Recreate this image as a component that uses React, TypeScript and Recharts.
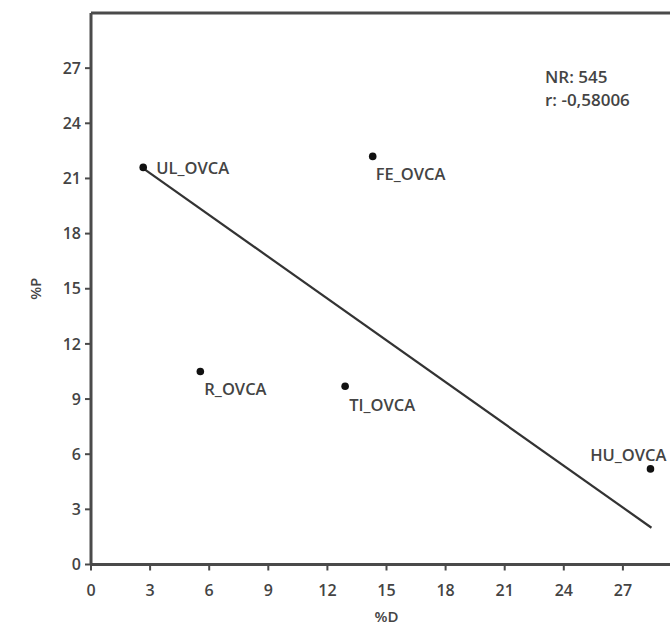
import { ScatterChart, Scatter, XAxis, YAxis, ReferenceLine } from "recharts";

// values
const names = ["UL_OVCA", "FE_OVCA", "R_OVCA", "TI_OVCA", "HU_OVCA"];
const dValues = [2.65, 14.3, 5.55, 12.9, 28.4];
const pValues = [21.6, 22.2, 10.5, 9.7, 5.2];
const trendD = [2.65, 28.45];
const trendP = [21.55, 2.0];
const axisTicks = [0, 3, 6, 9, 12, 15, 18, 21, 24, 27];
const stats = ["NR: 545", "r: -0,58006"];

const points = names.map((name, i) => ({ name, d: dValues[i], p: pValues[i] }));

const FONT = "'Open Sans', 'Liberation Sans', sans-serif";
const INK = "#444";
const AXIS = "#4a4a4a";

// where each point's name sits relative to its dot
const labelPos: Record<string, { dx: number; dy: number; anchor: "start" | "end" }> = {
  UL_OVCA: { dx: 13, dy: 0, anchor: "start" },
  FE_OVCA: { dx: 3, dy: 17, anchor: "start" },
  R_OVCA: { dx: 4, dy: 17, anchor: "start" },
  TI_OVCA: { dx: 4, dy: 18, anchor: "start" },
  HU_OVCA: { dx: 16, dy: -14, anchor: "end" },
};

function Dot(props: any) {
  const { cx, cy, payload } = props;
  const pos = labelPos[payload.name];
  return (
    <g>
      <circle cx={cx} cy={cy} r={3.8} fill="#111" />
      <text
        x={cx + pos.dx}
        y={cy + pos.dy}
        textAnchor={pos.anchor}
        dominantBaseline="central"
        fontFamily={FONT}
        fontSize={16.5}
        fontWeight={600}
        fill={INK}
      >
        {payload.name}
      </text>
    </g>
  );
}

export default function App() {
  const tick = { fontSize: 16, fill: INK, fontFamily: FONT, fontWeight: 600 };
  return (
    <div style={{ position: "absolute", left: 0, top: 0, width: 670, height: 628, overflow: "hidden", background: "#fff" }}>
      <ScatterChart width={700} height={628} margin={{ top: 13, right: 18, bottom: 18.5, left: 31 }}>
        <XAxis
          type="number"
          dataKey="d"
          domain={[0, 30]}
          ticks={axisTicks}
          allowDataOverflow
          height={45}
          tick={tick}
          tickSize={6}
          tickMargin={14}
          axisLine={{ stroke: AXIS, strokeWidth: 3 }}
          tickLine={{ stroke: AXIS, strokeWidth: 2 }}
          label={{ value: "%D", position: "bottom", offset: 1.5, fontSize: 15, fontWeight: 600, fill: INK, fontFamily: FONT }}
        />
        <YAxis
          type="number"
          dataKey="p"
          domain={[0, 30]}
          ticks={axisTicks}
          allowDataOverflow
          width={60}
          tick={tick}
          tickSize={6}
          tickMargin={4}
          axisLine={{ stroke: AXIS, strokeWidth: 3 }}
          tickLine={{ stroke: AXIS, strokeWidth: 2 }}
          label={{
            content: (p: any) => {
              const vb = p.viewBox;
              const x = vb.x + 4;
              const y = vb.y + vb.height / 2;
              return (
                <text x={x} y={y} transform={`rotate(-90 ${x} ${y})`} textAnchor="middle" dominantBaseline="central" fontSize={15} fontWeight={600} fill={INK} fontFamily={FONT}>
                  %P
                </text>
              );
            },
          }}
        />
        <ReferenceLine y={30} stroke={AXIS} strokeWidth={3} ifOverflow="visible" />
        <ReferenceLine
          segment={[
            { x: trendD[0], y: trendP[0] },
            { x: trendD[1], y: trendP[1] },
          ]}
          stroke="#333"
          strokeWidth={2.2}
          ifOverflow="visible"
        />
        <Scatter data={points} shape={<Dot />} isAnimationActive={false} />
      </ScatterChart>
      <div style={{ position: "absolute", left: 545, top: 64.5, fontFamily: FONT, fontSize: 17, fontWeight: 600, lineHeight: "23px", color: INK }}>
        {stats.map((s) => (
          <div key={s}>{s}</div>
        ))}
      </div>
    </div>
  );
}
